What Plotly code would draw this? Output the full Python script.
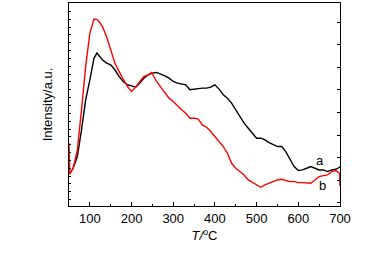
import plotly.graph_objects as go

temps = [50, 52, 60, 70, 80, 90, 100, 110, 117, 120, 130, 140, 150, 160, 170, 180, 190, 200,
         210, 220, 230, 240, 248, 250, 260, 270, 280, 290, 300, 310, 320, 330, 340, 350, 360,
         370, 380, 390, 400, 410, 420, 430, 440, 450, 460, 470, 480, 490, 500, 510, 520, 530,
         540, 550, 560, 570, 580, 590, 600, 610, 620, 630, 640, 650, 660, 670, 680, 690, 699, 700]

# intensity (arbitrary units) of curve a (black)
series_a = [96, 98, 113, 148, 228, 318, 378, 443, 458, 453, 438, 428, 423, 408, 388, 373, 363, 360,
            356, 368, 383, 393, 397, 398, 400, 396, 390, 383, 373, 368, 366, 363, 348, 350, 353,
            353, 353, 356, 363, 350, 333, 323, 308, 288, 268, 248, 233, 218, 203, 203, 198, 190,
            183, 178, 178, 163, 140, 118, 106, 108, 113, 118, 113, 108, 108, 103, 108, 110, 116, 118]

# intensity (arbitrary units) of curve b (red)
series_b = [188, 96, 113, 168, 288, 418, 518, 560, 558, 556, 538, 508, 468, 428, 403, 378, 358, 343,
            356, 373, 388, 393, 400, 396, 373, 356, 338, 323, 313, 300, 288, 278, 263, 263, 260,
            243, 236, 223, 208, 193, 178, 158, 128, 113, 103, 93, 78, 70, 63, 56, 63, 68,
            73, 78, 80, 76, 73, 73, 70, 70, 68, 68, 78, 88, 91, 93, 103, 106, 98, 60]

x_ticks = [100, 200, 300, 400, 500, 600, 700]

fig = go.Figure()
fig.add_trace(go.Scatter(x=temps, y=series_a, mode="lines",
                         line=dict(color="black", width=1.4), showlegend=False))
fig.add_trace(go.Scatter(x=temps, y=series_b, mode="lines",
                         line=dict(color="#ff0000", width=1.4), showlegend=False))
# invisible trace for right axis ticks
fig.add_trace(go.Scatter(x=[None], y=[None], yaxis="y2", showlegend=False))

fig.add_annotation(x=653, y=136, text="a", showarrow=False,
                   font=dict(family="Liberation Sans, Arial", size=13, color="black"))
fig.add_annotation(x=657, y=60, text="b", showarrow=False,
                   font=dict(family="Liberation Sans, Arial", size=13, color="black"))

fig.update_layout(
    width=376, height=255,
    margin=dict(l=69, r=36, t=3, b=49, autoexpand=False),
    paper_bgcolor="white", plot_bgcolor="white",
    font=dict(family="Liberation Sans, Arial", size=13, color="black"),
    xaxis=dict(range=[50, 700], tickvals=x_ticks, ticks="inside", ticklen=4,
               tickcolor="black", showline=True, linecolor="black", linewidth=1,
               mirror=True, showgrid=False, zeroline=False, automargin=False,
               tickfont=dict(size=13),
               minor=dict(ticks="inside", ticklen=2, dtick=50, tick0=50, tickcolor="black"),
               title=dict(text="<i>T/</i><sup>o</sup>C", standoff=6,
                          font=dict(size=13))),
    yaxis=dict(range=[0, 608], tick0=19, dtick=23.5, ticks="inside", ticklen=2,
               tickcolor="black", showticklabels=False, showline=True, linecolor="black",
               linewidth=1, mirror=True, showgrid=False, zeroline=False, automargin=False,
               title=dict(text="Intensity/a.u.", standoff=12, font=dict(size=13))),
    yaxis2=dict(range=[0, 608], overlaying="y", side="right", tick0=10, dtick=67.5,
                ticks="inside", ticklen=3, tickcolor="black", showticklabels=False,
                showline=False, showgrid=False, zeroline=False, automargin=False),
)

fig.write_html("out.html", config={"displayModeBar": False},
               post_script="document.body.style.margin='0';")
